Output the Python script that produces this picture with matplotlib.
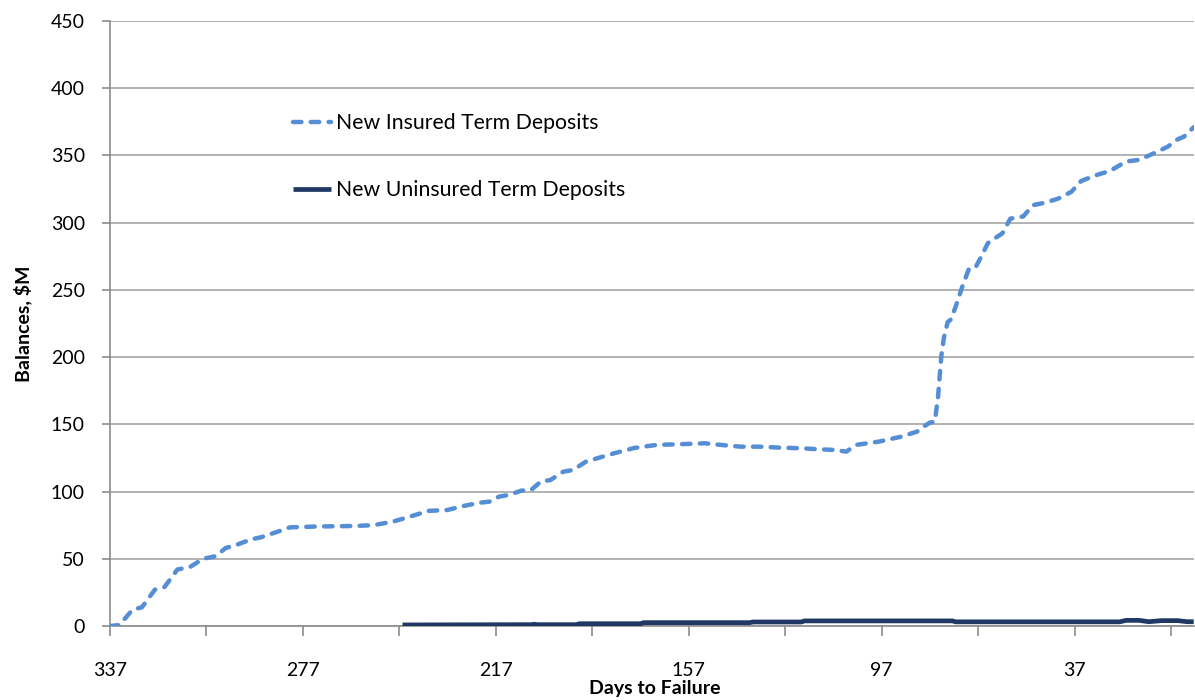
import matplotlib
matplotlib.use('Agg')
import matplotlib.pyplot as plt

# New insured term deposits ($M) by days to failure
insured_days = [337, 334, 330, 327, 323, 320, 316, 312, 308, 304, 301, 298, 293, 290,
                285, 281, 273, 261, 255, 249, 242, 238, 232, 227, 222, 219, 216, 213,
                209, 206, 203, 200, 196, 193, 189, 184, 180, 174, 167, 160, 152, 147,
                141, 135, 129, 122, 117, 112, 108, 105, 98, 91, 86, 84, 82, 80.5, 79.5,
                78.5, 77.7, 76.5, 75.5, 74, 72, 70, 68, 66, 64, 61, 59.5, 57, 53, 50,
                46, 42, 38, 35, 30, 26, 21, 17, 12, 8, 5, 3, 0]
insured_vals = [0, 0.7, 12, 14, 27, 29, 42, 44, 50, 52, 58, 60, 64.5, 66,
                70, 73.4, 74, 74.4, 75, 77.6, 82.6, 85.6, 86.3, 89.3, 91.7, 92.5, 96.2, 97.5,
                100.7, 101.2, 107.4, 108.6, 114.8, 116, 122.2, 125.8, 128.6, 132.4, 134.7, 135.2, 135.9, 134.7,
                133.4, 133.4, 132.7, 132.2, 131.5, 131, 129.7, 134.7, 137.1, 140.8, 144.6, 148.3, 151.3, 152, 170,
                200, 214, 226, 228, 237.6, 252, 265, 266, 275, 284.8, 289.7, 292, 303, 304.6, 313,
                315, 318, 323, 331, 335.6, 338.5, 345.5, 346.7, 352, 356.6, 362, 364, 371]

# New uninsured term deposits ($M)
uninsured_days = [246, 206, 205, 204, 192, 191, 172, 171, 138, 137, 122, 121, 75, 74,
                  23, 21, 17, 14, 10, 5, 2, 0]
uninsured_vals = [0.8, 1.0, 1.3, 1.0, 1.0, 1.7, 1.7, 2.5, 2.5, 3.0, 3.0, 3.8, 3.8, 3.1,
                  3.1, 4.2, 4.2, 3.2, 4.0, 4.0, 3.2, 3.2]

y_ticks = list(range(0, 451, 50))
x_major = [337, 277, 217, 157, 97, 37]
x_minor = [307, 247, 187, 127, 67, 7]

plt.rcParams['font.family'] = ['Lato', 'DejaVu Sans']

fig = plt.figure(figsize=(11.95, 7), dpi=100, facecolor='white')
ax = fig.add_axes([0.0919, 0.1057, 0.907, 0.8643])

grid_color = '#A6A6A6'
axis_color = '#8C8C8C'

ax.plot(insured_days, insured_vals, color='#558ED5', linewidth=3.2,
        linestyle=(0, (1.9, 2.1)), dash_capstyle='round',
        label='New Insured Term Deposits', zorder=3)
ax.plot(uninsured_days, uninsured_vals, color='#1F3864', linewidth=3.4,
        solid_capstyle='butt', label='New Uninsured Term Deposits', zorder=4)

ax.set_xlim(337, 0)
ax.set_ylim(0, 450)
ax.set_yticks(y_ticks)
ax.set_xticks(x_major)
ax.set_xticks(x_minor, minor=True)

ax.yaxis.grid(True, color=grid_color, linewidth=1.2)
ax.set_axisbelow(True)

for side in ['top', 'right']:
    ax.spines[side].set_visible(False)
for side in ['left', 'bottom']:
    ax.spines[side].set_color(axis_color)
    ax.spines[side].set_linewidth(1.2)

ax.tick_params(axis='y', which='major', length=6, color=axis_color, width=1.2,
               labelsize=14, pad=12)
ax.tick_params(axis='x', which='both', length=7, color=axis_color, width=1.2,
               labelsize=14, pad=19)
ax.tick_params(axis='x', which='minor', labelbottom=False)

fig.text(0.019, 0.538, 'Balances, $M', rotation=90, ha='center', va='center',
         fontsize=14, fontweight='bold')
fig.text(0.548, 0.017, 'Days to Failure', ha='center', va='center',
         fontsize=14, fontweight='bold')

ax.legend(loc='upper left', bbox_to_anchor=(0.245, 0.838), bbox_transform=fig.transFigure,
          frameon=False, fontsize=15.3, handlelength=1.8, handletextpad=0.25,
          labelspacing=2.2, borderpad=0, borderaxespad=0)

plt.savefig('out.png', dpi=100, facecolor='white')
